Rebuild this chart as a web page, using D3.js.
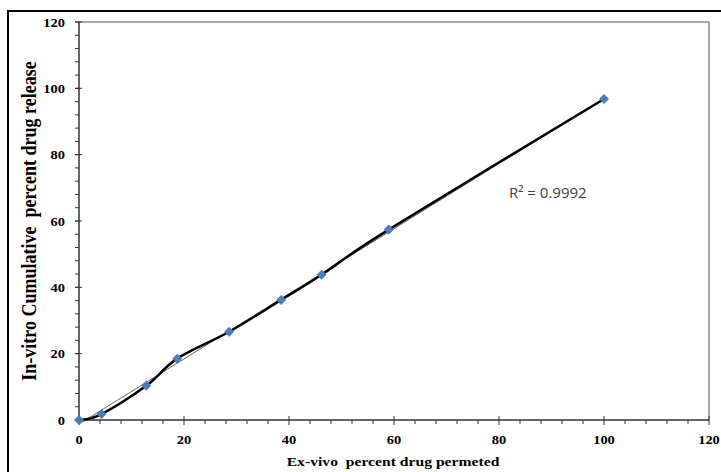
<!DOCTYPE html>
<html lang="en">
<head>
    <meta charset="UTF-8">
    <title>Ex-vivo vs In-vitro</title>
    <style>
        body { margin: 0; background: #fff; }
        svg { display: block; }
    </style>
</head>
<body>
    <svg width="721" height="472"></svg>
    <script src="https://d3js.org/d3.v7.min.js"></script>
    <script>
        // ex-vivo permeated (x) vs in-vitro released (y)
        const exVivo = [0, 4.3, 12.8, 18.7, 28.6, 38.5, 46.2, 59.0, 100]
        const inVitro = [0, 1.8, 10.3, 18.5, 26.6, 36.2, 43.8, 57.4, 96.8]
        const xTicks = [0, 20, 40, 60, 80, 100, 120]
        const yTicks = [0, 20, 40, 60, 80, 100, 120]
        const r2Label = 'R² = 0.9992'

        const points = exVivo.map((x, i) => ({ x: x, y: inVitro[i] }))

        const svg = d3.select('svg')
        const pLeft = 79, pRight = 709, pTop = 22, pBottom = 420
        const serif = '"Liberation Serif", "Times New Roman", serif'
        const stretch = 1.16   // the original picture is a bit wider than tall

        const x = d3.scaleLinear().domain([0, 120]).range([pLeft, pRight])
        const y = d3.scaleLinear().domain([0, 120]).range([pBottom, pTop])

        // outer chart frame
        svg.append('rect')
            .attr('x', 8).attr('y', 11)
            .attr('width', 740).attr('height', 500)
            .attr('fill', 'none')
            .attr('stroke', '#000')
            .attr('stroke-width', 2)

        // plot area border (top + right)
        svg.append('path')
            .attr('d', `M${pLeft},${pTop}H${pRight}V${pBottom}`)
            .attr('fill', 'none')
            .attr('stroke', '#8c8c8c')
            .attr('stroke-width', 1.5)

        const minor = d3.range(0, 121, 4)

        // x axis
        const xAxis = svg.append('g')
        xAxis.append('line')
            .attr('x1', pLeft).attr('x2', pRight)
            .attr('y1', pBottom).attr('y2', pBottom)
            .attr('stroke', '#333').attr('stroke-width', 1.5)
        xAxis.selectAll('.minor').data(minor).enter()
            .append('line')
                .attr('x1', d => x(d)).attr('x2', d => x(d))
                .attr('y1', pBottom).attr('y2', d => pBottom + (d % 20 === 0 ? 5 : 4))
                .attr('stroke', '#333').attr('stroke-width', 1)
        xAxis.selectAll('.major').data(xTicks).enter()
            .append('line')
                .attr('x1', d => x(d)).attr('x2', d => x(d))
                .attr('y1', pBottom - 4).attr('y2', pBottom)
                .attr('stroke', '#333').attr('stroke-width', 1)
        xAxis.selectAll('text').data(xTicks).enter()
            .append('text')
                .attr('transform', d => `translate(${x(d)},${pBottom + 24}) scale(${stretch},1)`)
                .attr('text-anchor', 'middle')
                .style('font', `bold 12.5px ${serif}`)
                .text(d => d)

        // y axis
        const yAxis = svg.append('g')
        yAxis.append('line')
            .attr('x1', pLeft).attr('x2', pLeft)
            .attr('y1', pTop).attr('y2', pBottom)
            .attr('stroke', '#333').attr('stroke-width', 1.5)
        yAxis.selectAll('.minor').data(minor).enter()
            .append('line')
                .attr('x1', pLeft - 4).attr('x2', pLeft)
                .attr('y1', d => y(d)).attr('y2', d => y(d))
                .attr('stroke', '#333').attr('stroke-width', 1)
        yAxis.selectAll('.major').data(yTicks).enter()
            .append('line')
                .attr('x1', pLeft - 4).attr('x2', pLeft + 3)
                .attr('y1', d => y(d)).attr('y2', d => y(d))
                .attr('stroke', '#333').attr('stroke-width', 1)
        yAxis.selectAll('text').data(yTicks).enter()
            .append('text')
                .attr('transform', d => `translate(${pLeft - 14},${y(d) + 4.5}) scale(${stretch},1)`)
                .attr('text-anchor', 'end')
                .style('font', `bold 12.5px ${serif}`)
                .text(d => d)

        // axis titles
        svg.append('text')
            .attr('transform', `translate(393,466) scale(${stretch},1)`)
            .attr('text-anchor', 'middle')
            .style('font', `bold 13.5px ${serif}`)
            .style('white-space', 'pre')
            .text('Ex-vivo  percent drug permeted')

        svg.append('text')
            .attr('transform', `translate(36,${(pTop + pBottom) / 2}) scale(${stretch},1) rotate(-90)`)
            .attr('text-anchor', 'middle')
            .style('font', `bold 18px ${serif}`)
            .style('white-space', 'pre')
            .text('In-vitro Cumulative  percent drug release')

        // linear trendline from least squares
        const mx = d3.mean(exVivo), my = d3.mean(inVitro)
        const slope = d3.sum(points, p => (p.x - mx) * (p.y - my)) / d3.sum(points, p => (p.x - mx) ** 2)
        const icpt = my - slope * mx
        const xExt = d3.extent(exVivo)
        svg.append('line')
            .attr('x1', x(xExt[0])).attr('y1', y(slope * xExt[0] + icpt))
            .attr('x2', x(xExt[1])).attr('y2', y(slope * xExt[1] + icpt))
            .attr('stroke', '#666').attr('stroke-width', 1)

        // smoothed series line
        const line = d3.line()
            .x(d => x(d.x)).y(d => y(d.y))
            .curve(d3.curveCatmullRom.alpha(0))
        svg.append('path')
            .datum(points)
            .attr('d', line)
            .attr('fill', 'none')
            .attr('stroke', '#000')
            .attr('stroke-width', 2.5)

        // diamond markers
        svg.selectAll('.pt').data(points).enter()
            .append('path')
                .attr('d', d3.symbol().type(d3.symbolDiamond2).size(64))
                .attr('transform', d => `translate(${x(d.x)},${y(d.y)})`)
                .attr('fill', '#4a7ebb')

        svg.append('text')
            .attr('x', 509).attr('y', 198)
            .style('font', '15px "Open Sans", sans-serif')
            .attr('fill', '#404040')
            .text(r2Label)
    </script>
</body>
</html>
